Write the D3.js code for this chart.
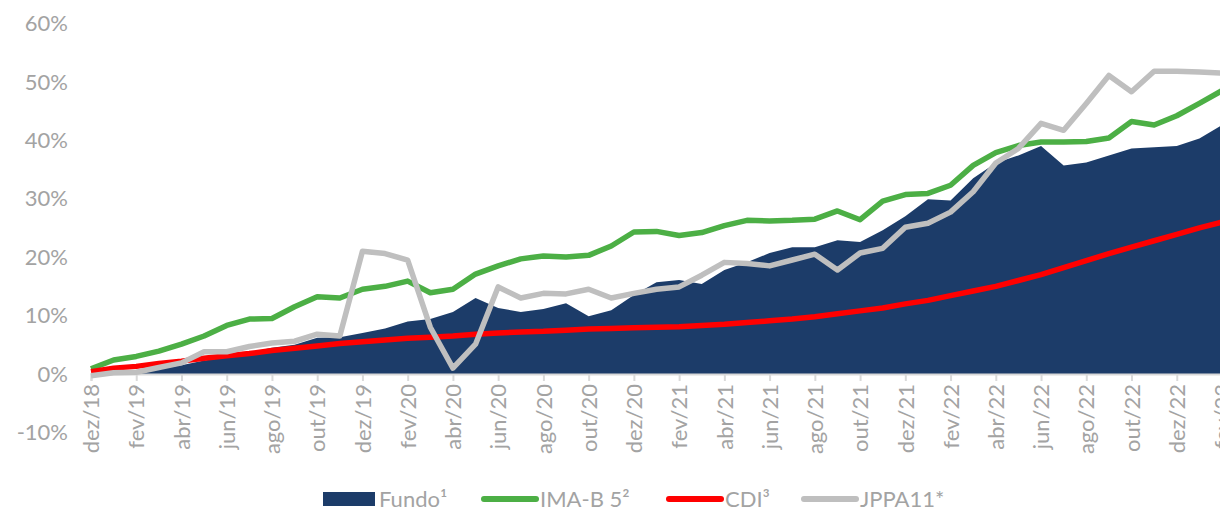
<!DOCTYPE html>
<html>
<head>
<meta charset="utf-8">
<script src="https://cdn.jsdelivr.net/npm/d3@7"></script>
<style>
  body { margin: 0; background: #fff; }
  text { font-family: Lato, "Open Sans", sans-serif; fill: #a3a3a3; }
</style>
</head>
<body>
<div id="chart"></div>
<script>
var width = 1220,
  height = 512;

// monthly categories, dez/18 .. fev/23
var months = ["dez/18","jan/19","fev/19","mar/19","abr/19","mai/19","jun/19","jul/19","ago/19","set/19",
  "out/19","nov/19","dez/19","jan/20","fev/20","mar/20","abr/20","mai/20","jun/20","jul/20",
  "ago/20","set/20","out/20","nov/20","dez/20","jan/21","fev/21","mar/21","abr/21","mai/21",
  "jun/21","jul/21","ago/21","set/21","out/21","nov/21","dez/21","jan/22","fev/22","mar/22",
  "abr/22","mai/22","jun/22","jul/22","ago/22","set/22","out/22","nov/22","dez/22","jan/23","fev/23"];

// accumulated returns, %
var fundo = [0.0,0.2,0.4,0.9,1.5,2.3,2.8,3.7,4.5,5.0,
  6.2,6.3,7.0,7.8,9.0,9.4,10.6,13.0,11.3,10.6,
  11.1,12.1,9.9,10.9,13.5,15.7,16.1,15.4,17.8,19.1,
  20.7,21.7,21.7,22.9,22.6,24.6,27.0,29.9,29.7,33.5,
  36.1,37.4,39.0,35.7,36.2,37.4,38.6,38.8,39.0,40.3,42.6];
var imab5 = [0.9,2.4,3.0,3.9,5.1,6.5,8.3,9.4,9.5,11.5,
  13.2,13.0,14.5,15.0,15.9,13.9,14.5,17.1,18.5,19.7,
  20.2,20.0,20.3,21.9,24.3,24.4,23.7,24.2,25.4,26.3,
  26.2,26.3,26.5,27.9,26.4,29.6,30.7,30.9,32.3,35.7,
  37.9,39.1,39.7,39.7,39.8,40.4,43.2,42.6,44.2,46.3,48.5];
var cdi = [0.4,1.0,1.3,1.8,2.2,2.7,3.1,3.5,4.0,4.4,
  4.8,5.2,5.5,5.8,6.1,6.3,6.5,6.8,7.0,7.2,
  7.3,7.5,7.7,7.8,7.9,8.0,8.1,8.3,8.5,8.8,
  9.1,9.4,9.8,10.3,10.8,11.3,12.0,12.6,13.4,14.2,
  15.0,16.0,17.0,18.2,19.4,20.6,21.7,22.8,23.9,25.0,26.0];
var jppa11 = [-0.3,0.2,0.3,1.1,1.9,3.8,3.8,4.7,5.3,5.6,
  6.8,6.5,21.0,20.6,19.5,8.0,1.0,5.1,14.9,13.0,
  13.8,13.7,14.5,13.0,13.8,14.5,14.9,16.9,19.1,18.9,
  18.5,19.5,20.5,17.8,20.7,21.5,25.1,25.8,27.7,31.2,
  36.1,38.6,42.9,41.7,46.3,51.1,48.3,51.8,51.8,51.7,51.5];

var yTicks = [-10, 0, 10, 20, 30, 40, 50, 60];

var svg = d3.select("#chart").append("svg")
  .attr("width", width)
  .attr("height", height);

var x = d3.scaleLinear()
  .domain([0, months.length - 1])
  .range([91, 1222]);
var y = d3.scaleLinear()
  .domain([-10, 60])
  .range([432.4, 23.4]);

// y labels
svg.append("g")
  .selectAll("text")
  .data(yTicks)
  .enter().append("text")
    .attr("x", 68)
    .attr("y", function(d) { return y(d); })
    .attr("dy", "0.35em")
    .attr("text-anchor", "end")
    .style("font-size", "22px")
    .text(function(d) { return d + "%"; });

// fund area
var area = d3.area()
  .x(function(d, i) { return x(i); })
  .y0(y(0))
  .y1(function(d) { return y(d); });

svg.append("path")
  .datum(fundo)
  .attr("fill", "#1c3c69")
  .attr("d", area);

// x axis line + ticks every 2 months
var xAxis = d3.axisBottom(x)
  .tickValues(d3.range(0, months.length, 2))
  .tickSize(7)
  .tickFormat(function(i) { return months[i]; });

var gx = svg.append("g")
  .attr("transform", "translate(0," + y(0) + ")")
  .call(xAxis);
gx.select(".domain").attr("stroke", "#d9d9d9").attr("stroke-width", 2);
gx.selectAll(".tick line").attr("stroke", "#d9d9d9").attr("stroke-width", 2);
gx.selectAll(".tick text")
  .attr("fill", "#a3a3a3")
  .style("font-family", "Lato, sans-serif")
  .style("font-size", "22px")
  .attr("text-anchor", "end")
  .attr("transform", "rotate(-90)")
  .attr("x", -10)
  .attr("y", 0)
  .attr("dy", "0.35em");

var line = d3.line()
  .x(function(d, i) { return x(i); })
  .y(function(d) { return y(d); });

var series = [
  {name: "IMA-B 5²", values: imab5, color: "#4caf45"},
  {name: "CDI³", values: cdi, color: "#ff0000"},
  {name: "JPPA11*", values: jppa11, color: "#bfbfbf"}
];

svg.selectAll(".series")
  .data(series)
  .enter().append("path")
    .attr("class", "series")
    .attr("fill", "none")
    .attr("stroke", function(d) { return d.color; })
    .attr("stroke-width", 5.5)
    .attr("stroke-linejoin", "round")
    .attr("d", function(d) { return line(d.values); });

// legend
var legY = 499;
var legend = svg.append("g");
legend.append("rect")
  .attr("x", 323).attr("y", legY - 7)
  .attr("width", 52).attr("height", 14)
  .attr("fill", "#1c3c69");
legend.append("text")
  .attr("x", 379).attr("y", legY).attr("dy", "0.35em")
  .style("font-size", "22px")
  .text("Fundo¹");

var legX = [484, 669, 804];
series.forEach(function(s, i) {
  legend.append("line")
    .attr("x1", legX[i]).attr("x2", legX[i] + 52)
    .attr("y1", legY).attr("y2", legY)
    .attr("stroke", s.color)
    .attr("stroke-width", 6)
    .attr("stroke-linecap", "round");
  legend.append("text")
    .attr("x", legX[i] + 56).attr("y", legY).attr("dy", "0.35em")
    .style("font-size", "22px")
    .text(s.name);
});
</script>
</body>
</html>
